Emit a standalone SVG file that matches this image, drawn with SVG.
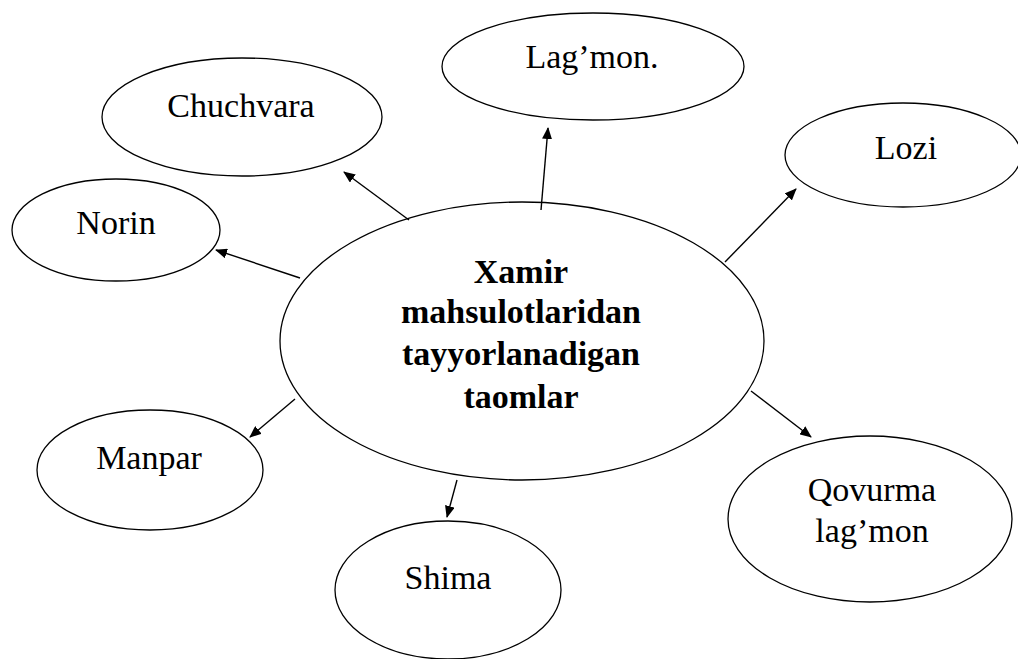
<svg xmlns="http://www.w3.org/2000/svg" width="1018" height="659" viewBox="0 0 1018 659">
<style>
.n{fill:#fff;stroke:#000;stroke-width:1.3}
.t{font-family:'Liberation Serif','Times New Roman','DejaVu Serif',serif;font-size:34px;fill:#000;text-anchor:middle}
.b{font-weight:bold;font-size:34px}
.c line{stroke:#000;stroke-width:1.4;marker-end:url(#ah)}
</style>
<defs>
<marker id="ah" viewBox="0 0 12 10" refX="11" refY="5" markerWidth="12" markerHeight="10" markerUnits="userSpaceOnUse" orient="auto">
<path d="M0,0 L12,5 L0,10 Z" fill="#000"/>
</marker>
</defs>
<rect width="1018" height="659" fill="#fff"/>
<g id="center">
<ellipse class="n" cx="522" cy="341" rx="242" ry="139"/>
<text class="t b" x="521" y="283">Xamir</text>
<text class="t b" x="521" y="323">mahsulotlaridan</text>
<text class="t b" x="521" y="365">tayyorlanadigan</text>
<text class="t b" x="521" y="408">taomlar</text>
</g>
<g id="lagmon">
<ellipse class="n" cx="593" cy="66.5" rx="151" ry="53.5"/>
<text class="t" x="592" y="68">Lag’mon.</text>
</g>
<g id="chuchvara">
<ellipse class="n" cx="242" cy="117" rx="140" ry="59"/>
<text class="t" x="241" y="117">Chuchvara</text>
</g>
<g id="norin">
<ellipse class="n" cx="116" cy="230" rx="104" ry="51"/>
<text class="t" x="116" y="234">Norin</text>
</g>
<g id="lozi">
<ellipse class="n" cx="903" cy="155" rx="118" ry="52"/>
<text class="t" x="906" y="159">Lozi</text>
</g>
<g id="manpar">
<ellipse class="n" cx="150" cy="470" rx="113" ry="60"/>
<text class="t" x="149" y="469">Manpar</text>
</g>
<g id="shima">
<ellipse class="n" cx="448" cy="590" rx="113" ry="69"/>
<text class="t" x="448" y="589">Shima</text>
</g>
<g id="qovurma">
<ellipse class="n" cx="870" cy="519" rx="142" ry="83"/>
<text class="t" x="872" y="501">Qovurma</text>
<text class="t" x="872" y="542">lag’mon</text>
</g>
<g id="connectors" class="c">
<line x1="541" y1="210" x2="548" y2="128"/>
<line x1="409" y1="220" x2="344" y2="172"/>
<line x1="300" y1="278" x2="216" y2="250"/>
<line x1="725" y1="262" x2="796" y2="189"/>
<line x1="295" y1="399" x2="250" y2="437"/>
<line x1="457" y1="480" x2="447" y2="517"/>
<line x1="751" y1="391" x2="811" y2="437"/>
</g>
</svg>
